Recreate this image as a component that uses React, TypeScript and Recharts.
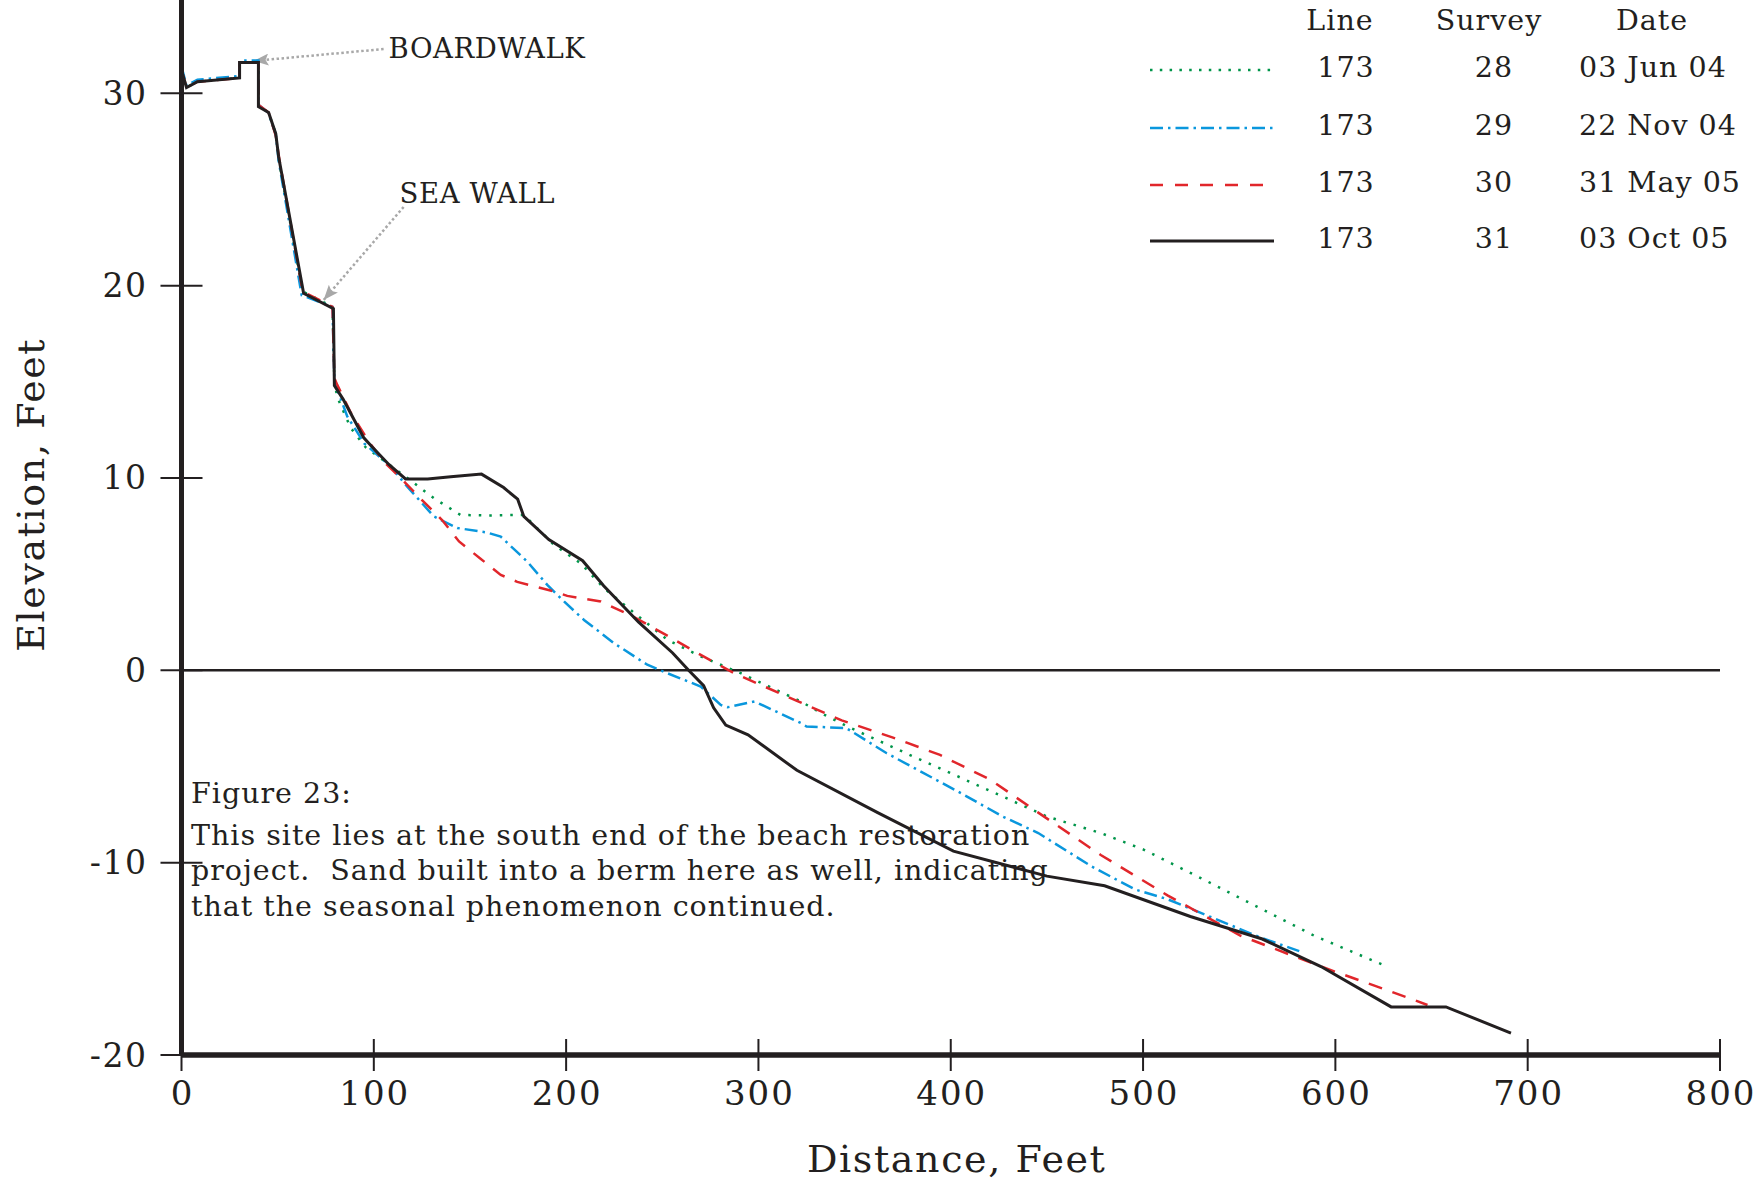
import React from 'react';
import { LineChart, Line, XAxis, YAxis, ReferenceLine, ReferenceDot, Legend, Label } from 'recharts';

const FONT = '"DejaVu Serif", "Liberation Serif", serif';
const INK = '#231f20';
const GRAY = '#a8a8a8';

const xTicks = [0, 100, 200, 300, 400, 500, 600, 700, 800];
const yTicks = [-20, -10, 0, 10, 20, 30];

// Survey 28 — 03 Jun 04
const survey28: [number, number][] = [
  [0, 31.2], [2.6, 30.3], [8.3, 30.6], [30.2, 30.8], [30.2, 31.6], [40, 31.6], [40, 29.4], [45.3, 29.0],
  [49, 27.9], [50.5, 26.6], [63, 19.7], [78.5, 18.9], [79.5, 15.0], [81, 14.2], [88, 12.6], [95.7, 11.6],
  [107, 10.77], [117.4, 10.0], [131.2, 8.95], [145, 8.08], [159, 8.05], [178, 8.08], [193.7, 6.52],
  [207.5, 5.57], [219.7, 4.27], [233.5, 3.14], [252.6, 1.59], [270, 0.72], [290.8, -0.15], [322, -1.62],
  [334, -2.3], [348, -3.0], [380.5, -4.48], [427, -6.56], [450, -7.6], [478, -8.46], [500.5, -9.33],
  [530, -10.8], [559.5, -12.3], [589, -13.8], [625.4, -15.34],
];

// Survey 29 — 22 Nov 04
const survey29: [number, number][] = [
  [0, 31.4], [2.6, 30.4], [8.3, 30.7], [30.2, 30.9], [30.2, 31.7], [40, 31.7], [40, 29.4], [45, 29.0],
  [49, 27.9], [50.5, 26.5], [62.5, 19.5], [78.5, 18.9], [79.5, 15.0], [81, 14.6], [86.2, 13.2], [95, 11.8],
  [108.7, 10.6], [117.4, 9.55], [131.2, 8.0], [143.4, 7.4], [159, 7.16], [166, 6.95], [179.8, 5.65],
  [190.2, 4.44], [198.9, 3.58], [209.3, 2.62], [224.9, 1.41], [242.2, 0.29], [252.6, -0.15], [270, -0.84],
  [280.4, -1.8], [284, -1.92], [298, -1.62], [322, -2.74], [325, -2.92], [345.6, -3.0], [366.5, -4.3],
  [403.7, -6.3], [427, -7.6], [445.5, -8.46], [473.3, -10.2], [496, -11.4], [512.7, -11.9], [537, -12.9],
  [561.2, -13.9], [581.2, -14.6],
];

// Survey 30 — 31 May 05
const survey30: [number, number][] = [
  [0, 31.2], [2.6, 30.3], [8.3, 30.6], [30.2, 30.8], [30.2, 31.6], [40, 31.6], [40, 29.4], [45.3, 29.0],
  [49, 27.8], [51, 26.5], [63, 19.7], [78.5, 18.9], [79.5, 15.2], [81, 14.84], [88, 13.4], [97.3, 11.9],
  [105.2, 10.85], [114, 10.0], [122.6, 9.1], [135.6, 7.8], [144.3, 6.7], [155.5, 5.8], [166, 4.96],
  [174.6, 4.6], [193.7, 4.1], [200.6, 3.87], [218, 3.58], [235.3, 2.77], [252.6, 1.8], [270, 0.8],
  [287.3, -0.15], [320.3, -1.6], [343.3, -2.6], [370, -3.5], [394.4, -4.4], [420.8, -5.7], [445.5, -7.4],
  [478, -9.6], [512.7, -11.7], [550.8, -13.8], [578.6, -14.87], [599.4, -15.65], [628.9, -16.7], [647.9, -17.4],
];

// Survey 31 — 03 Oct 05
const survey31: [number, number][] = [
  [0, 31.2], [2.6, 30.3], [8.3, 30.6], [30.2, 30.8], [30.2, 31.6], [40, 31.6], [40, 29.3], [45.3, 29.0],
  [49, 27.9], [50.5, 26.7], [63.5, 19.6], [79, 18.8], [79.5, 14.8], [84, 14.1], [94.7, 12.1], [99.3, 11.6],
  [107.8, 10.7], [116.5, 9.95], [128, 9.95], [140, 10.06], [156, 10.2], [167.5, 9.5], [174.8, 8.9],
  [178, 8.0], [191, 6.8], [208.6, 5.7], [219.5, 4.4], [237.7, 2.5], [255.4, 0.9], [263.7, 0.0],
  [271.5, -0.8], [276.7, -1.95], [283, -2.85], [294.6, -3.35], [320, -5.2], [362, -7.4], [401.4, -9.4],
  [450, -10.7], [480, -11.2], [524.6, -12.8], [562, -13.97], [592.5, -15.4], [629, -17.5], [657.5, -17.5],
  [691.3, -18.86],
];

const lineNumbers = ['173', '173', '173', '173'];
const surveyNumbers = ['28', '29', '30', '31'];
const surveyDates = ['03 Jun 04', '22 Nov 04', '31 May 05', '03 Oct 05'];

const seriesStyles = [
  { color: '#00954a', width: 2.5, dash: '2.5 8', legendDash: '2.5 7.3' },
  { color: '#0a97dd', width: 2.5, dash: '13 5 2.5 5', legendDash: '13 5 2.5 5' },
  { color: '#e1262b', width: 2.5, dash: '14 11', legendDash: '13 12' },
  { color: INK, width: 3, dash: undefined as string | undefined, legendDash: undefined as string | undefined },
];

const annotations = [
  { text: 'BOARDWALK', tx: 107.7, ty: 32.35, from: { x: 105.1, y: 32.3 }, to: { x: 37.5, y: 31.68 } },
  { text: 'SEA WALL', tx: 113.4, ty: 24.82, from: { x: 115.5, y: 24.09 }, to: { x: 73.9, y: 19.25 } },
];

const captionTitle = 'Figure 23:';
const captionLines = [
  'This site lies at the south end of the beach restoration',
  'project.  Sand built into a berm here as well, indicating',
  'that the seasonal phenomenon continued.',
];

const toRows = (pts: [number, number][]) => pts.map(([x, y]) => ({ x, y }));
const seriesData = [survey28, survey29, survey30, survey31].map(toRows);

const TEXT_SIZE = 28.5;
const TEXT_SPACING = 1;

const YTick = (props: any) => {
  const { x, y, payload } = props;
  return (
    <g>
      <line x1={x - 21} x2={x + 21} y1={y} y2={y} stroke={INK} strokeWidth={2} />
      <text x={x - 34} y={y} dominantBaseline="central" textAnchor="end" fontFamily={FONT} fontSize={33}
        letterSpacing={1.5} fill={INK}>
        {payload.value}
      </text>
    </g>
  );
};

const XTick = (props: any) => {
  const { x, y, payload } = props;
  return (
    <g>
      <line x1={x} x2={x} y1={y - 16} y2={y + 16} stroke={INK} strokeWidth={2} />
      <text x={x + 1} y={y + 38} dominantBaseline="central" textAnchor="middle" fontFamily={FONT} fontSize={34}
        letterSpacing={2} fill={INK}>
        {payload.value}
      </text>
    </g>
  );
};

const LegendTable = () => {
  const colLine = 1346 - 1130;
  const colSurvey = 1494 - 1130;
  const colDate = 1579 - 1130;
  const rowY = [67, 125, 182, 238];
  return (
    <svg width={634} height={260} style={{ display: 'block', overflow: 'visible' }}>
      <g fontFamily={FONT} fontSize={TEXT_SIZE} letterSpacing={TEXT_SPACING} fill={INK}>
        <text x={1340 - 1130} y={20} textAnchor="middle" dominantBaseline="central">Line</text>
        <text x={1489 - 1130} y={20} textAnchor="middle" dominantBaseline="central">Survey</text>
        <text x={1652 - 1130} y={20} textAnchor="middle" dominantBaseline="central">Date</text>
        {seriesStyles.map((s, i) => (
          <g key={i}>
            <line x1={20} x2={i === 2 ? 134 : 144} y1={rowY[i] + 3} y2={rowY[i] + 3} stroke={s.color}
              strokeWidth={s.width} strokeDasharray={s.legendDash} />
            <text x={colLine} y={rowY[i]} textAnchor="middle" dominantBaseline="central">{lineNumbers[i]}</text>
            <text x={colSurvey} y={rowY[i]} textAnchor="middle" dominantBaseline="central">{surveyNumbers[i]}</text>
            <text x={colDate} y={rowY[i]} textAnchor="start" dominantBaseline="central">{surveyDates[i]}</text>
          </g>
        ))}
      </g>
    </svg>
  );
};

export default function App() {
  return (
    <div style={{ position: 'absolute', left: 0, top: 0, width: 1764, height: 1181, background: '#fff' }}>
      <svg width={0} height={0} style={{ position: 'absolute' }}>
        <defs>
          <marker id="grayArrow" markerUnits="userSpaceOnUse" markerWidth={16} markerHeight={12}
            refX={15} refY={6} orient="auto">
            <path d="M0,0 L15,6 L0,12 L3,6 z" fill={GRAY} />
          </marker>
        </defs>
      </svg>
      <LineChart width={1764} height={1181} margin={{ top: 0, right: 44, bottom: 0, left: 0 }}>
        <XAxis type="number" dataKey="x" domain={[0, 800]} ticks={xTicks} allowDataOverflow
          height={126} tickSize={0} tickMargin={0} tickLine={false} tick={<XTick />}
          axisLine={{ stroke: INK, strokeWidth: 5.5 }}>
          <Label content={(p: any) => {
            const vb = p.viewBox || { x: 181.5, y: 1055, width: 1538, height: 126 };
            return (
              <text x={vb.x + vb.width / 2 + 6} y={vb.y + 104} textAnchor="middle" dominantBaseline="central"
                fontFamily={FONT} fontSize={38} letterSpacing={1.6} fill={INK}>Distance, Feet</text>
            );
          }} />
        </XAxis>
        <YAxis type="number" dataKey="y" domain={[-20, 34.85]} ticks={yTicks} allowDataOverflow
          width={181.5} tickSize={0} tickMargin={0} tickLine={false} tick={<YTick />}
          axisLine={{ stroke: INK, strokeWidth: 5 }}>
          <Label content={(p: any) => {
            const vb = p.viewBox || { x: 0, y: 0, width: 181.5, height: 1055 };
            const cx = vb.x + 31;
            const cy = vb.y + vb.height * 0.469;
            return (
              <text x={cx} y={cy} transform={`rotate(-90 ${cx} ${cy})`} textAnchor="middle" dominantBaseline="central"
                fontFamily={FONT} fontSize={38} letterSpacing={1.6} fill={INK}>Elevation, Feet</text>
            );
          }} />
        </YAxis>
        <ReferenceLine y={0} stroke={INK} strokeWidth={2.5} />
        {annotations.map((a, i) => (
          <ReferenceLine key={'arrow' + i} segment={[a.from, a.to]} stroke={GRAY} strokeWidth={2.5}
            strokeDasharray="2.5 2.5" markerEnd="url(#grayArrow)" />
        ))}
        {annotations.map((a, i) => (
          <ReferenceDot key={'ann' + i} x={a.tx} y={a.ty} r={0}
            shape={(p: any) => (
              <text x={p.cx} y={p.cy} dominantBaseline="central" fontFamily={FONT} fontSize={27.5}
                letterSpacing={0.6} fill={INK}>{a.text}</text>
            )} />
        ))}
        {seriesData.map((d, i) => (
          <Line key={i} data={d} dataKey="y" type="linear" stroke={seriesStyles[i].color}
            strokeWidth={seriesStyles[i].width} strokeDasharray={seriesStyles[i].dash}
            dot={false} activeDot={false} isAnimationActive={false} />
        ))}
        <Legend layout="horizontal" verticalAlign="middle" align="center" content={() => <LegendTable />}
          wrapperStyle={{ position: 'absolute', left: 1130, top: 0, width: 634, height: 260 }} />
      </LineChart>
      <svg width={1764} height={1181} style={{ position: 'absolute', left: 0, top: 0, pointerEvents: 'none' }}>
        <g fontFamily={FONT} fontSize={TEXT_SIZE} letterSpacing={TEXT_SPACING} fill={INK}>
          <text x={191} y={793} dominantBaseline="central">{captionTitle}</text>
          {captionLines.map((t, i) => (
            <text key={i} x={191} y={835 + i * 35.5} dominantBaseline="central" xmlSpace="preserve"
              style={{ whiteSpace: 'pre' }}>{t}</text>
          ))}
        </g>
      </svg>
    </div>
  );
}
